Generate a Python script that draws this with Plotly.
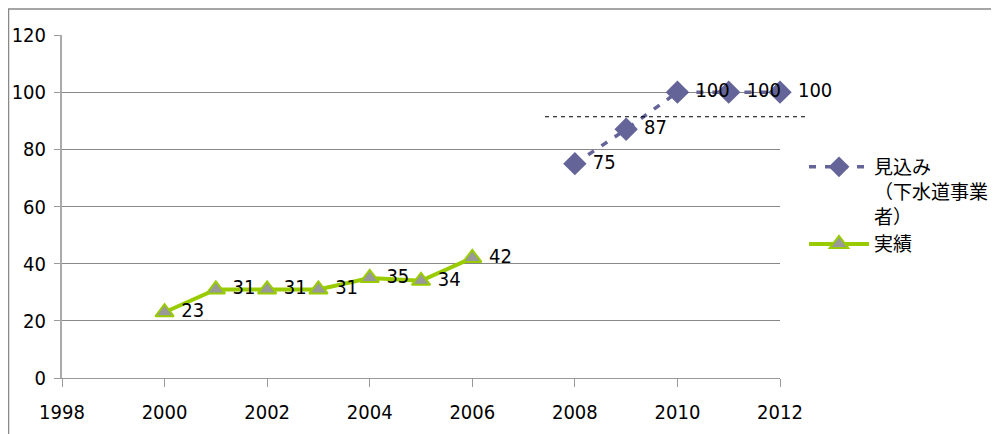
import plotly.graph_objects as go

years_actual = [2000, 2001, 2002, 2003, 2004, 2005, 2006]
values_actual = [23, 31, 31, 31, 35, 34, 42]
years_forecast = [2008, 2009, 2010, 2011, 2012]
values_forecast = [75, 87, 100, 100, 100]
target_value = 91.4
x_ticks = [1998, 2000, 2002, 2004, 2006, 2008, 2010, 2012]
y_ticks = [0, 20, 40, 60, 80, 100, 120]

FONT = "Liberation Sans Narrow, DejaVu Sans Condensed, sans-serif"
JP = "Noto Sans CJK JP, sans-serif"

W, H = 991, 426
L, R, T, B = 54, 219, 27, 56
PW, PH = W - L - R, H - T - B

fig = go.Figure()
fig.add_trace(go.Scatter(
    x=years_forecast, y=values_forecast, mode="lines+markers+text",
    name="見込み<br>（下水道事業<br>者）",
    line=dict(color="#646499", width=3.5, dash="7px,9px"),
    marker=dict(symbol="diamond", size=18, color="#646499"),
    text=[" " + str(v) for v in values_forecast], textposition="middle right",
    textfont=dict(size=20, color="black", family=FONT),
    cliponaxis=False,
))
fig.add_trace(go.Scatter(
    x=years_actual, y=values_actual, mode="lines+markers+text",
    name="実績",
    line=dict(color="#99CC00", width=4),
    marker=dict(symbol="triangle-up", size=16, color="#999999",
                line=dict(color="#99CC00", width=2)),
    text=[" " + str(v) for v in values_actual], textposition="middle right",
    textfont=dict(size=20, color="black", family=FONT),
    cliponaxis=False,
))

fig.add_shape(type="line", xref="paper", yref="y",
              x0=(537 - L) / PW, x1=(797 - L) / PW,
              y0=target_value, y1=target_value,
              line=dict(color="black", width=1, dash="4px,4px"))
fig.add_shape(type="rect", xref="paper", yref="paper",
              x0=-(L - 0.5) / PW, x1=1.5,
              y0=-0.3, y1=1 + (T - 1) / PH,
              line=dict(color="#888888", width=1.5), layer="below")

fig.update_layout(
    width=W, height=H,
    margin=dict(l=L, r=R, t=T, b=B, autoexpand=False),
    paper_bgcolor="white", plot_bgcolor="white",
    font=dict(family=FONT, size=20, color="black"),
    showlegend=True,
    legend=dict(x=(796 - L) / PW, y=1 - (140 - T) / PH, xanchor="left", yanchor="top",
                font=dict(family=JP, size=19, color="black"),
                valign="top", tracegroupgap=0, itemwidth=60,
                bgcolor="rgba(0,0,0,0)"),
)
fig.update_xaxes(range=[1998, 2012], tickvals=x_ticks, showgrid=False,
                 showline=True, linecolor="#999999", linewidth=1,
                 ticks="outside", ticklen=8, tickcolor="#999999",
                 ticklabelstandoff=8, automargin=False,
                 zeroline=False, tickfont=dict(size=20))
fig.update_yaxes(range=[0, 120], tickvals=y_ticks, showgrid=True,
                 gridcolor="#888888", gridwidth=1,
                 showline=True, linecolor="#aaaaaa", linewidth=2,
                 ticks="outside", ticklen=6, tickcolor="#999999",
                 ticklabelstandoff=4, automargin=False,
                 zeroline=False, tickfont=dict(size=20))

fig.write_html("out.html")
